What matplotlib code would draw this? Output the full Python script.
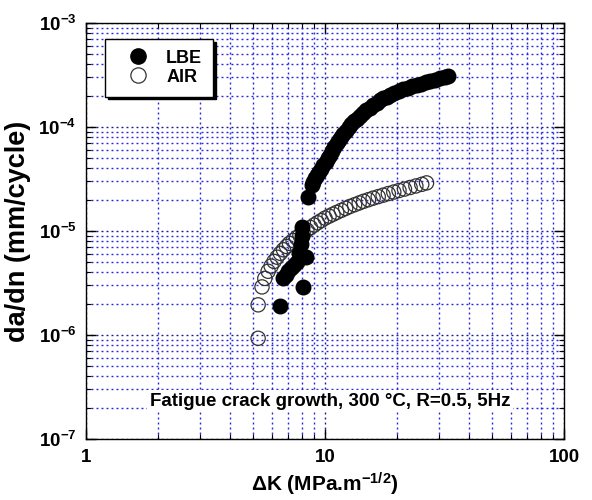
import matplotlib
matplotlib.use("Agg")
import matplotlib.pyplot as plt
from matplotlib.ticker import LogLocator, FixedLocator, NullFormatter, FuncFormatter
from matplotlib.lines import Line2D

plt.rcParams['font.family'] = ['Liberation Sans', 'DejaVu Sans']
plt.rcParams['font.weight'] = 'bold'
plt.rcParams['mathtext.fontset'] = 'custom'
plt.rcParams['mathtext.rm'] = 'Liberation Sans:bold'
plt.rcParams['mathtext.bf'] = 'Liberation Sans:bold'
plt.rcParams['mathtext.it'] = 'Liberation Sans:bold'

# Crack growth rate data, liquid lead-bismuth eutectic (LBE)
lbe_dk = [6.5, 8.1, 6.7, 6.85, 7.0, 7.2, 7.4, 7.6, 8.3, 7.8, 7.9, 8.0, 8.05, 8.5,
          8.80, 8.95, 9.10, 9.23, 9.40, 9.60, 9.84, 10.05, 10.25, 10.5, 10.7, 10.95,
          11.2, 11.45, 11.7, 11.9, 12.2, 12.55, 12.9, 13.25, 13.6, 14.0, 14.45, 14.9,
          15.4, 15.9, 16.45, 17.0, 17.55, 18.1, 18.7, 19.5, 20.4, 21.3, 22.2, 23.2,
          24.2, 25.3, 26.4, 27.5, 28.8, 30.2, 31.8, 32.6]
lbe_rate = [1.9e-6, 2.9e-6, 3.5e-6, 3.8e-6, 4.1e-6, 4.4e-6, 4.7e-6, 5.0e-6, 5.6e-6,
            6.2e-6, 7.5e-6, 9.0e-6, 1.1e-5, 2.1e-5,
            2.77e-5, 2.98e-5, 3.2e-5, 3.45e-5, 3.7e-5, 3.98e-5, 4.31e-5, 4.65e-5,
            5.0e-5, 5.38e-5, 5.85e-5, 6.4e-5, 6.97e-5, 7.5e-5, 8.0e-5, 8.5e-5,
            9.1e-5, 9.9e-5, 1.06e-4, 1.13e-4, 1.2e-4, 1.28e-4, 1.36e-4, 1.45e-4,
            1.53e-4, 1.62e-4, 1.71e-4, 1.80e-4, 1.88e-4, 1.96e-4, 2.03e-4, 2.12e-4,
            2.21e-4, 2.30e-4, 2.38e-4, 2.46e-4, 2.53e-4, 2.61e-4, 2.69e-4, 2.77e-4,
            2.86e-4, 2.95e-4, 3.03e-4, 3.08e-4]

# Crack growth rate data, air
air_dk = [5.25, 5.25, 5.45, 5.6, 5.78, 5.95, 6.12, 6.3, 6.5, 6.7, 6.9, 7.1, 7.35,
          7.6, 7.85, 8.1, 8.4, 8.7, 9.0, 9.3, 9.65, 10.0, 10.4, 10.8, 11.2, 11.7,
          12.2, 12.7, 13.3, 13.9, 14.5, 15.2, 15.9, 16.7, 17.5, 18.4, 19.4, 20.4,
          21.5, 22.7, 24.0, 25.4, 26.6]
air_rate = [9.3e-7, 1.95e-6, 2.9e-6, 3.5e-6, 4.1e-6, 4.6e-6, 5.1e-6, 5.6e-6, 6.1e-6,
            6.6e-6, 7.1e-6, 7.6e-6, 8.1e-6, 8.6e-6, 9.1e-6, 9.6e-6, 1.02e-5, 1.08e-5,
            1.14e-5, 1.2e-5, 1.26e-5, 1.33e-5, 1.39e-5, 1.45e-5, 1.51e-5, 1.58e-5,
            1.65e-5, 1.72e-5, 1.79e-5, 1.86e-5, 1.93e-5, 2.0e-5, 2.07e-5, 2.14e-5,
            2.21e-5, 2.29e-5, 2.37e-5, 2.45e-5, 2.53e-5, 2.62e-5, 2.71e-5, 2.81e-5,
            2.9e-5]

x_ticks = [1, 10, 100]
y_ticks = [1e-7, 1e-6, 1e-5, 1e-4, 1e-3]
y_tick_labels = [r'$10^{-7}$', r'$10^{-6}$', r'$10^{-5}$', r'$10^{-4}$', r'$10^{-3}$']

fig = plt.figure(figsize=(5.92, 5.0), dpi=100)
ax = fig.add_axes([0.1453, 0.122, 0.8074, 0.832])
ax.set_xscale('log')
ax.set_yscale('log')
ax.set_xlim(1, 100)
ax.set_ylim(1e-7, 1e-3)

# dotted grid on every decade and sub-decade
dots = (0, (1.4, 2.2))
ax.grid(True, which='major', color='#1a1a90', linestyle=dots, linewidth=1.0, zorder=0)
ax.grid(True, which='minor', color='#2525e8', linestyle=dots, linewidth=1.0, zorder=0)
ax.set_axisbelow(True)

ax.xaxis.set_major_locator(FixedLocator(x_ticks))
ax.xaxis.set_minor_locator(LogLocator(base=10, subs=range(2, 10)))
ax.xaxis.set_minor_formatter(NullFormatter())
ax.xaxis.set_major_formatter(FuncFormatter(lambda v, p: '%d' % v))
ax.yaxis.set_major_locator(FixedLocator(y_ticks))
ax.yaxis.set_minor_locator(LogLocator(base=10, subs=range(2, 10)))
ax.yaxis.set_minor_formatter(NullFormatter())
ax.set_yticklabels(y_tick_labels)

ax.tick_params(which='both', direction='in', top=True, right=True, colors='black')
ax.tick_params(which='major', length=7, width=1.0, labelsize=13.5, pad=7)
ax.tick_params(which='minor', length=3.5, width=0.8)
for s in ax.spines.values():
    s.set_linewidth(1.0)

ax.scatter(air_dk, air_rate, s=105, facecolors='none', edgecolors='#333333',
           linewidths=0.9, zorder=3)
ax.scatter(lbe_dk, lbe_rate, s=110, color='black', zorder=4)

ax.set_xlabel(r'$\Delta$K (MPa.m$^{-1/2}$)', fontsize=15, fontweight='bold', labelpad=4)
ax.set_ylabel('da/dn (mm/cycle)', fontsize=19.5, fontweight='bold', labelpad=5)

handles = [Line2D([], [], marker='o', linestyle='none', color='black', markersize=11),
           Line2D([], [], marker='o', linestyle='none', markerfacecolor='white',
                  markeredgecolor='#333333', markeredgewidth=0.9, markersize=11)]
leg = ax.legend(handles, ['LBE', 'AIR'], loc='upper left', bbox_to_anchor=(0.04, 0.962),
                borderaxespad=0, frameon=True, fancybox=False, edgecolor='black',
                framealpha=1, shadow={'color': 'black', 'alpha': 1.0},
                prop={'weight': 'bold', 'size': 13}, handletextpad=0.32,
                borderpad=0.6, labelspacing=0.12, handlelength=2.46)
leg.get_frame().set_linewidth(1.0)
leg.set_zorder(6)

ax.text(0.51, 0.091, 'Fatigue crack growth, 300 \u00b0C, R=0.5, 5Hz', transform=ax.transAxes,
        ha='center', va='center', fontsize=13.5, fontweight='bold', zorder=5,
        bbox=dict(facecolor='white', edgecolor='none', pad=2.0))

fig.savefig('out.png', dpi=100)
